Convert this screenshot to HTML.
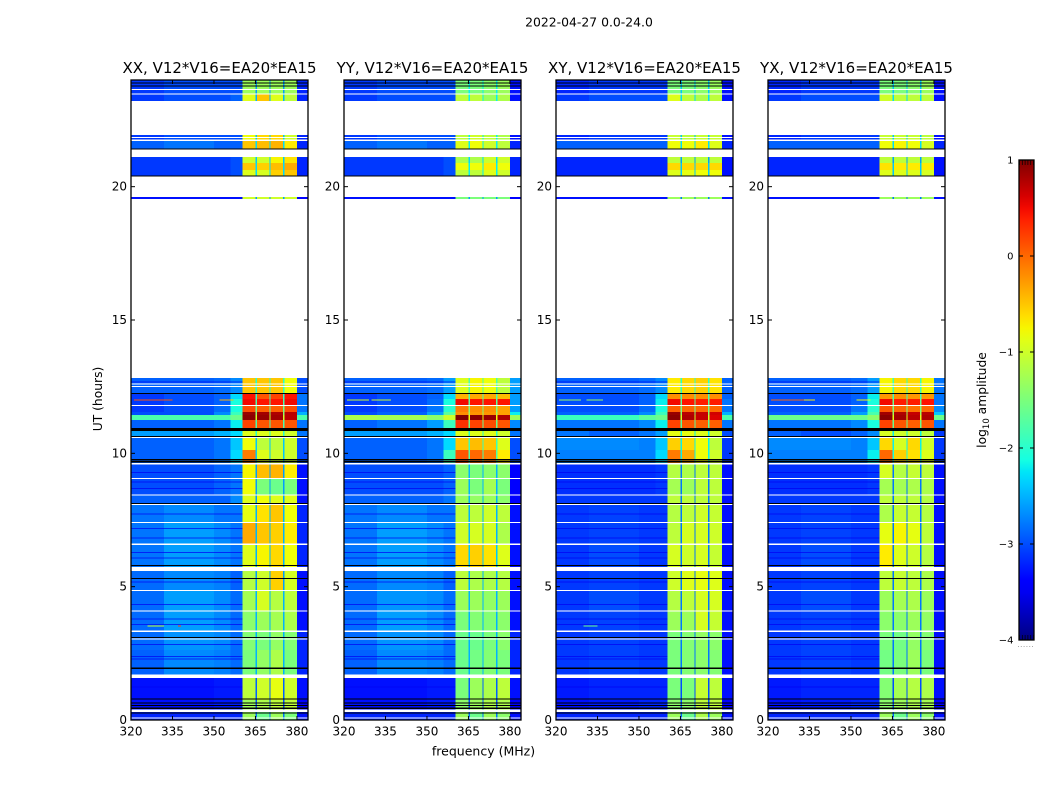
<!DOCTYPE html>
<html lang="en">
<head>
<meta charset="utf-8">
<title>2022-04-27 spectrograms</title>
<style>
html,body{margin:0;padding:0;background:#fff;}
svg{display:block;font-family:"DejaVu Sans","Liberation Sans",sans-serif;fill:#000;}
</style>
</head>
<body>
<svg id="fig" xmlns="http://www.w3.org/2000/svg" width="1050" height="800" viewBox="0 0 1050 800">
  <defs>
    <linearGradient id="jet-gradient" x1="0" y1="1" x2="0" y2="0"></linearGradient>
  </defs>
  <rect x="0" y="0" width="1050" height="800" fill="#fff"/>
  <text x="589" y="26.5" font-size="12.4" text-anchor="middle">2022-04-27 0.0-24.0</text>
  <text x="483.5" y="755.5" font-size="12.5" text-anchor="middle">frequency (MHz)</text>
  <text x="0" y="0" font-size="12.3" text-anchor="middle" transform="translate(102,399) rotate(-90)">UT (hours)</text>
  <text x="0" y="0" font-size="12.3" text-anchor="middle" transform="translate(986,400) rotate(-90)">log<tspan font-size="8.5" dy="3">10</tspan><tspan dy="-3"> amplitude</tspan></text>
  <g id="panels"></g>
  <g id="colorbar"></g>
</svg>
<script>
// ---------- Chart data ----------
const panelTitles = ["XX, V12*V16=EA20*EA15", "YY, V12*V16=EA20*EA15", "XY, V12*V16=EA20*EA15", "YX, V12*V16=EA20*EA15"];
const xTicks = [320, 335, 350, 365, 380];
const yTicks = [0, 5, 10, 15, 20];
const colorTicks = [1, 0, -1, -2, -3, -4];
const freqRange = [320, 384];
const hourRange = [0, 24];
const colorRange = [-4, 1];

// Frequency channel edges (MHz): four background bins, then sub-bands with narrow gaps, then the high end.
const freqEdges = [320, 332, 350, 356, 360.4, 365, 365.5, 370, 370.5, 375, 375.5, 380, 384];
// For each channel above, which column of a row holds its value.
const channelColumn = [0, 1, 2, 3, 4, 8, 5, 8, 6, 8, 7, 9];

// UT spans (hours) of the observed rows.
const rowSpans = [
  [24.00,23.47],[23.47,23.21],[21.94,21.71],[21.71,21.41],[21.11,20.89],[20.89,20.63],[20.63,20.40],[19.61,19.54],
  [12.83,12.26],[12.26,12.04],[12.04,11.81],[11.81,11.55],[11.55,11.44],[11.44,11.25],[11.25,10.95],[10.95,10.65],
  [10.65,10.13],[10.13,9.64],[9.64,9.08],[9.08,8.44],[8.44,8.10],[8.10,7.43],[7.43,6.60],[6.60,5.74],
  [5.59,4.88],[4.88,4.09],[4.09,3.34],[3.34,2.63],[2.63,1.58],[1.58,0.75],[0.75,0.30],[0.30,0.00]
];

// log10 amplitude per row: L1 L2 L3 L4 S1 S2 S3 S4 gap high
const xxValues = [
  [-3.1,-3.0,-3.0,-3.0,-1.3,-1.3,-1.3,-1.3,-2.6,-3.2],
  [-3.1,-3.0,-3.0,-2.9,-0.9,-0.5,-0.9,-1.1,-2.5,-3.2],
  [-3.1,-3.0,-3.0,-3.0,-0.8,-0.6,-0.6,-1.0,-2.4,-3.2],
  [-2.9,-2.8,-2.9,-2.9,-0.5,-0.45,-0.4,-0.7,-2.3,-3.2],
  [-3.1,-3.1,-3.1,-3.0,-1.0,-1.0,-0.75,-0.65,-2.4,-3.2],
  [-3.1,-3.1,-3.1,-3.0,-0.5,-0.55,-0.45,-0.35,-2.3,-3.2],
  [-3.1,-3.1,-3.1,-3.0,-0.9,-0.95,-0.55,-0.5,-2.3,-3.2],
  [-3.3,-3.3,-3.3,-3.3,-1.0,-1.0,-1.0,-1.0,-2.6,-3.4],
  [-2.9,-2.9,-2.85,-2.7,-0.5,-0.5,-0.5,-0.8,-2.0,-3.0],
  [-3.1,-3.0,-2.9,-2.3,0.45,0.1,0.2,0.45,-2.0,-2.8],
  [-3.1,-3.0,-2.9,-2.1,0.5,0.45,0.45,0.5,-1.8,-2.8],
  [-3.1,-3.0,-2.85,-2.1,0.15,0.05,0.05,0.15,-1.6,-2.8],
  [-3.0,-3.0,-2.7,-1.9,0.9,0.85,0.8,0.75,-1.4,-2.5],
  [-1.8,-1.8,-1.8,-1.6,0.95,0.9,0.85,0.75,-1.0,-1.8],
  [-2.9,-2.9,-2.8,-2.2,0.2,0.1,0.1,0.1,-1.8,-2.8],
  [-2.6,-2.6,-2.5,-2.3,-0.9,-0.9,-0.9,-1.0,-2.0,-2.8],
  [-2.9,-2.9,-2.8,-2.4,-0.8,-1.1,-1.1,-1.0,-2.4,-3.0],
  [-2.9,-2.9,-2.8,-2.3,-0.1,-0.9,-1.0,-1.0,-2.4,-3.0],
  [-3.0,-3.0,-2.9,-2.8,-0.75,-0.45,-0.4,-0.7,-2.6,-3.3],
  [-3.0,-3.0,-2.9,-2.8,-0.8,-1.5,-1.6,-1.5,-2.6,-3.3],
  [-2.9,-2.9,-2.9,-2.7,-0.9,-0.8,-0.9,-0.9,-2.6,-3.3],
  [-2.8,-2.7,-2.8,-2.8,-0.85,-0.65,-0.5,-0.8,-2.5,-3.2],
  [-2.8,-2.6,-2.7,-2.8,-0.35,-0.5,-0.55,-0.7,-2.5,-3.2],
  [-2.8,-2.6,-2.7,-2.8,-0.9,-0.75,-0.6,-0.8,-2.5,-3.2],
  [-2.85,-2.7,-2.75,-2.9,-1.15,-1.0,-0.55,-0.95,-2.6,-3.3],
  [-2.85,-2.6,-2.7,-2.85,-1.25,-0.95,-1.15,-1.1,-2.5,-3.3],
  [-2.85,-2.6,-2.7,-2.85,-1.4,-1.3,-1.25,-1.2,-2.5,-3.3],
  [-2.85,-2.65,-2.7,-2.85,-1.45,-1.5,-1.35,-1.45,-2.5,-3.2],
  [-2.9,-2.7,-2.75,-2.85,-1.5,-1.35,-1.2,-1.5,-2.5,-3.2],
  [-3.3,-3.3,-3.25,-3.25,-1.1,-1.0,-0.85,-1.0,-2.9,-3.3],
  [-3.3,-3.3,-3.25,-3.25,-1.3,-1.2,-1.1,-1.1,-3.0,-3.4],
  [-3.2,-3.2,-3.2,-3.2,-1.3,-1.6,-1.3,-1.5,-2.8,-3.3]
];
const yyValues = [
  [-3.1,-3.0,-3.0,-3.0,-1.5,-1.5,-1.4,-1.3,-2.2,-3.3],
  [-3.1,-3.0,-3.0,-3.0,-1.1,-1.1,-1.3,-1.2,-2.2,-3.3],
  [-3.1,-3.0,-3.0,-3.0,-1.1,-1.0,-1.1,-1.2,-2.2,-3.3],
  [-2.9,-2.8,-2.9,-2.9,-0.9,-0.8,-1.0,-1.1,-2.2,-3.2],
  [-3.1,-3.1,-3.1,-3.0,-1.2,-1.2,-1.0,-1.0,-2.3,-3.2],
  [-3.1,-3.1,-3.1,-3.0,-0.8,-0.8,-0.7,-0.8,-2.2,-3.2],
  [-3.1,-3.1,-3.1,-3.0,-1.1,-1.1,-0.9,-1.0,-2.2,-3.2],
  [-3.3,-3.3,-3.3,-3.3,-1.5,-1.5,-1.5,-1.5,-2.6,-3.4],
  [-2.9,-2.9,-2.85,-2.6,-0.9,-0.75,-0.8,-1.1,-1.8,-2.6],
  [-3.1,-3.0,-2.9,-2.3,-0.4,-0.35,-0.35,-0.45,-1.8,-2.6],
  [-3.1,-3.0,-2.85,-2.1,0.5,0.45,0.45,0.45,-1.7,-2.6],
  [-3.1,-3.0,-2.8,-2.0,-0.1,-0.2,-0.2,-0.3,-1.5,-2.6],
  [-3.0,-2.9,-2.6,-1.7,-0.2,-0.25,-0.25,-0.3,-1.3,-2.2],
  [-1.2,-1.25,-1.4,-1.0,1.0,0.95,0.9,0.8,-0.8,-1.3],
  [-2.9,-2.8,-2.6,-1.9,0.3,0.2,0.15,0.1,-1.6,-2.7],
  [-2.6,-2.6,-2.5,-2.3,-0.9,-0.9,-0.9,-1.0,-2.0,-2.8],
  [-2.9,-2.9,-2.8,-2.3,-0.5,-0.45,-0.5,-0.9,-1.9,-3.0],
  [-2.9,-2.9,-2.8,-1.9,0.1,0.0,-0.1,-0.7,-1.8,-3.0],
  [-3.0,-3.0,-3.0,-2.9,-1.4,-1.5,-1.4,-1.4,-2.5,-3.4],
  [-3.0,-3.0,-3.0,-2.9,-1.3,-1.5,-1.25,-1.5,-2.5,-3.4],
  [-2.9,-2.9,-2.9,-2.8,-1.3,-1.35,-1.3,-1.4,-2.5,-3.4],
  [-2.8,-2.7,-2.8,-2.8,-1.1,-1.1,-1.0,-1.1,-2.5,-3.3],
  [-2.8,-2.6,-2.7,-2.8,-1.0,-0.95,-0.95,-1.2,-2.5,-3.3],
  [-2.8,-2.6,-2.7,-2.8,-0.6,-0.55,-0.65,-0.9,-2.4,-3.3],
  [-2.85,-2.7,-2.75,-2.9,-1.1,-1.2,-1.2,-1.15,-2.5,-3.3],
  [-2.85,-2.65,-2.7,-2.85,-1.3,-1.3,-1.35,-1.3,-2.5,-3.3],
  [-2.85,-2.6,-2.7,-2.85,-1.5,-1.45,-1.45,-1.4,-2.5,-3.3],
  [-2.85,-2.65,-2.7,-2.85,-1.6,-1.6,-1.5,-1.4,-2.5,-3.2],
  [-2.9,-2.7,-2.75,-2.85,-1.6,-1.55,-1.45,-1.5,-2.5,-3.2],
  [-3.3,-3.3,-3.25,-3.25,-1.5,-1.3,-1.2,-1.1,-2.9,-3.3],
  [-3.3,-3.3,-3.25,-3.25,-1.4,-1.3,-1.2,-1.2,-3.0,-3.4],
  [-3.2,-3.2,-3.2,-3.2,-1.3,-1.6,-1.3,-1.4,-2.8,-3.3]
];
const xyValues = [
  [-3.2,-3.1,-3.1,-3.1,-1.5,-1.5,-1.4,-1.3,-2.4,-3.3],
  [-3.1,-3.0,-3.0,-3.0,-0.9,-1.1,-1.2,-1.1,-2.3,-3.3],
  [-3.2,-3.1,-3.1,-3.1,-1.05,-1.1,-1.05,-1.05,-2.4,-3.3],
  [-2.9,-2.9,-2.9,-2.9,-0.8,-0.8,-0.7,-0.9,-2.3,-3.2],
  [-3.2,-3.2,-3.2,-3.2,-1.1,-1.1,-1.1,-1.1,-2.6,-3.3],
  [-3.2,-3.2,-3.2,-3.2,-0.6,-0.6,-0.6,-0.6,-2.4,-3.3],
  [-3.2,-3.2,-3.2,-3.2,-0.9,-0.85,-0.8,-0.8,-2.4,-3.3],
  [-3.3,-3.3,-3.3,-3.3,-1.3,-1.3,-1.3,-1.3,-2.8,-3.3],
  [-2.9,-2.9,-2.85,-2.7,-0.7,-0.6,-0.55,-0.65,-2.0,-2.9],
  [-3.0,-3.0,-2.9,-2.3,-0.2,-0.2,-0.2,-0.2,-1.9,-2.9],
  [-3.0,-3.0,-2.9,-2.2,0.5,0.45,0.4,0.4,-1.7,-2.8],
  [-3.0,-3.0,-2.85,-2.1,0.05,0.0,0.0,0.0,-1.6,-2.8],
  [-2.9,-2.9,-2.7,-1.9,0.9,0.75,0.7,0.65,-1.4,-2.5],
  [-1.9,-1.9,-1.7,-1.6,0.95,0.8,0.7,0.6,-1.0,-1.8],
  [-2.8,-2.8,-2.7,-2.2,0.2,0.1,0.05,0.05,-1.7,-2.8],
  [-2.8,-2.9,-2.8,-2.6,-0.85,-0.85,-0.9,-1.0,-2.2,-3.0],
  [-2.7,-2.7,-2.75,-2.4,-0.55,-0.6,-0.8,-1.1,-2.2,-3.1],
  [-2.75,-2.75,-2.75,-2.3,-0.1,-0.35,-0.8,-1.0,-2.2,-3.1],
  [-3.15,-3.15,-3.15,-3.1,-1.15,-1.2,-1.1,-1.1,-2.8,-3.3],
  [-3.15,-3.15,-3.15,-3.1,-1.25,-1.3,-1.1,-1.1,-2.8,-3.3],
  [-3.1,-3.1,-3.1,-3.1,-1.1,-1.1,-1.1,-1.1,-2.8,-3.3],
  [-3.1,-3.05,-3.1,-3.1,-1.15,-1.1,-1.0,-1.05,-2.8,-3.3],
  [-3.1,-3.05,-3.1,-3.1,-1.1,-0.95,-0.95,-1.0,-2.8,-3.3],
  [-3.1,-3.0,-3.1,-3.1,-0.95,-1.0,-0.95,-1.05,-2.8,-3.3],
  [-3.1,-3.05,-3.1,-3.1,-1.0,-0.9,-0.85,-0.9,-2.8,-3.3],
  [-3.1,-3.0,-3.1,-3.1,-1.15,-1.1,-0.95,-0.95,-2.8,-3.3],
  [-3.1,-3.05,-3.1,-3.1,-1.3,-1.3,-0.95,-1.05,-2.8,-3.3],
  [-3.1,-3.05,-3.1,-3.1,-1.5,-1.45,-1.35,-1.4,-2.8,-3.3],
  [-3.1,-3.05,-3.1,-3.1,-1.5,-1.45,-1.4,-1.45,-2.8,-3.3],
  [-3.25,-3.2,-3.2,-3.2,-1.5,-1.5,-1.05,-1.1,-3.0,-3.3],
  [-3.3,-3.25,-3.2,-3.2,-1.4,-1.4,-1.1,-1.1,-3.0,-3.4],
  [-3.2,-3.2,-3.2,-3.2,-1.3,-1.6,-1.2,-1.3,-2.9,-3.3]
];
const yxValues = [
  [-3.2,-3.1,-3.1,-3.1,-1.5,-1.5,-1.4,-1.3,-2.4,-3.3],
  [-3.1,-3.0,-3.0,-3.0,-1.0,-1.1,-1.1,-1.1,-2.3,-3.3],
  [-3.2,-3.1,-3.1,-3.1,-1.05,-1.05,-1.05,-1.1,-2.4,-3.3],
  [-2.9,-2.9,-2.9,-2.9,-0.8,-0.75,-0.8,-0.95,-2.3,-3.2],
  [-3.2,-3.2,-3.2,-3.2,-1.1,-1.1,-1.1,-1.1,-2.6,-3.3],
  [-3.2,-3.2,-3.2,-3.2,-0.65,-0.7,-0.7,-0.7,-2.4,-3.3],
  [-3.2,-3.2,-3.2,-3.2,-0.9,-0.9,-0.9,-0.95,-2.4,-3.3],
  [-3.3,-3.3,-3.3,-3.3,-1.3,-1.3,-1.3,-1.3,-2.8,-3.3],
  [-2.9,-2.9,-2.85,-2.6,-0.75,-0.6,-0.6,-0.75,-1.9,-2.8],
  [-3.0,-3.0,-2.9,-2.2,-0.25,-0.2,-0.25,-0.25,-1.9,-2.8],
  [-3.0,-3.0,-2.9,-2.1,0.5,0.4,0.4,0.45,-1.6,-2.8],
  [-3.0,-3.0,-2.8,-2.0,0.1,0.0,-0.05,0.0,-1.5,-2.7],
  [-2.9,-2.9,-2.6,-1.8,0.85,0.8,0.7,0.75,-1.3,-2.4],
  [-1.6,-1.6,-1.6,-1.4,0.95,0.85,0.75,0.8,-0.9,-1.6],
  [-2.8,-2.8,-2.7,-2.1,0.2,0.1,0.05,0.1,-1.6,-2.8],
  [-2.9,-3.0,-2.9,-2.7,-0.95,-1.0,-1.0,-1.1,-2.2,-3.1],
  [-2.7,-2.7,-2.75,-2.4,-0.6,-0.95,-0.6,-1.0,-2.2,-3.1],
  [-2.75,-2.75,-2.75,-2.2,0.0,-0.55,-0.65,-0.9,-2.1,-3.1],
  [-3.15,-3.15,-3.15,-3.1,-0.95,-1.15,-1.05,-1.1,-2.8,-3.3],
  [-3.15,-3.15,-3.15,-3.1,-1.25,-1.25,-1.2,-1.2,-2.8,-3.3],
  [-3.1,-3.1,-3.1,-3.1,-1.1,-1.1,-1.1,-1.15,-2.8,-3.3],
  [-3.1,-3.05,-3.1,-3.1,-1.2,-1.05,-1.05,-1.15,-2.8,-3.3],
  [-3.1,-3.05,-3.1,-3.1,-0.85,-0.75,-0.85,-1.1,-2.8,-3.3],
  [-3.1,-3.0,-3.1,-3.1,-0.7,-0.9,-1.0,-1.15,-2.8,-3.3],
  [-3.1,-3.05,-3.1,-3.1,-1.1,-1.05,-1.1,-1.2,-2.8,-3.3],
  [-3.1,-3.0,-3.1,-3.1,-1.3,-1.25,-1.2,-1.3,-2.8,-3.3],
  [-3.1,-3.05,-3.1,-3.1,-1.4,-1.4,-1.3,-1.35,-2.8,-3.3],
  [-3.1,-3.05,-3.1,-3.1,-1.5,-1.55,-1.35,-1.45,-2.8,-3.3],
  [-3.1,-3.05,-3.1,-3.1,-1.55,-1.5,-1.3,-1.5,-2.8,-3.3],
  [-3.25,-3.2,-3.2,-3.2,-1.45,-1.25,-1.15,-1.2,-3.0,-3.3],
  [-3.3,-3.25,-3.2,-3.2,-1.4,-1.3,-1.2,-1.25,-3.0,-3.4],
  [-3.2,-3.2,-3.2,-3.2,-1.3,-1.6,-1.3,-1.4,-2.9,-3.3]
];
const panelValues = [xxValues, yyValues, xyValues, yxValues];

// Flagged integrations: blank rows (white) and zero rows (black), as UT spans.
const blankSpans = [
  [23.66,23.62],[23.49,23.45],[21.87,21.83],[21.76,21.72],[12.62,12.58],[12.53,12.49],[11.81,11.77],
  [10.61,10.57],[9.63,9.58],[9.08,9.04],[8.45,8.41],[8.11,8.07],[7.43,7.39],[6.61,6.57],[5.74,5.59],
  [4.87,4.83],[4.10,4.06],[3.36,3.30],[3.05,3.01],[1.71,1.58],[0.39,0.30],[0.09,0.05]
];
const zeroSpans = [
  [23.90,23.86],[23.80,23.76],[21.43,21.39],[20.42,20.38],[12.27,12.23],[10.95,10.84],[10.65,10.61],
  [9.78,9.74],[9.72,9.66],[8.14,8.10],[5.82,5.78],[5.33,5.29],[3.11,3.07],[1.96,1.92],[0.80,0.76],
  [0.65,0.61],[0.56,0.52],[0.47,0.41],[0.29,0.25]
];

// Faint low-amplitude integrations across the background band (UT hours).
const dipHours = [12.7, 9.3, 8.95, 8.7, 7.75, 7.2, 6.85, 6.3, 6.1, 5.2, 4.35, 3.8, 3.6, 2.85, 2.4, 2.3, 1.25];
const dipValue = -3.5;

// Narrow-band interference: panel index, start MHz, end MHz, UT hour, log10 amplitude.
const interference = [
  [0,321,335,12.02,0.1],[0,352,357,12.02,-0.4],[0,326,332,3.55,-1.1],[0,337,338,3.55,0.2],
  [1,321,329,12.02,-1.0],[1,330,337,12.02,-1.0],
  [2,321,329,12.02,-1.3],[2,331,337,12.02,-1.3],[2,330,335,3.55,-1.6],
  [3,321,333,12.02,0.0],[3,333,337,12.02,-0.7],[3,352,357,12.02,-0.8]
];

// ---------- Layout ----------
const SVG_NS = "http://www.w3.org/2000/svg";
const panelLefts = [131, 344, 556, 768];
const panelWidth = 177;
const plotTop = 80;
const plotBottom = 720;
const barLeft = 1019;
const barRight = 1034;
const barTop = 160;
const barBottom = 640;

function xScale(left, freq) {
  return left + (freq - freqRange[0]) / (freqRange[1] - freqRange[0]) * panelWidth;
}
function yScale(hour) {
  return plotBottom - (hour - hourRange[0]) / (hourRange[1] - hourRange[0]) * (plotBottom - plotTop);
}
function lerpStops(stops, t) {
  for (let i = 1; i < stops.length; i++) {
    if (t <= stops[i][0]) {
      const f = (t - stops[i - 1][0]) / (stops[i][0] - stops[i - 1][0]);
      return stops[i - 1][1] + f * (stops[i][1] - stops[i - 1][1]);
    }
  }
  return stops[stops.length - 1][1];
}
const jetR = [[0,0],[0.35,0],[0.66,1],[0.89,1],[1,0.5]];
const jetG = [[0,0],[0.125,0],[0.375,1],[0.64,1],[0.91,0],[1,0]];
const jetB = [[0,0.5],[0.11,1],[0.34,1],[0.65,0],[1,0]];
function jet(t) {
  const c = Math.max(0, Math.min(1, t));
  const to255 = function (v) { return Math.round(v * 255); };
  return "rgb(" + to255(lerpStops(jetR, c)) + "," + to255(lerpStops(jetG, c)) + "," + to255(lerpStops(jetB, c)) + ")";
}
function colorOf(value) {
  return jet((value - colorRange[0]) / (colorRange[1] - colorRange[0]));
}
function shape(tag, parent, attrs) {
  const el = document.createElementNS(SVG_NS, tag);
  for (const k in attrs) { el.setAttribute(k, attrs[k]); }
  parent.appendChild(el);
  return el;
}
function label(parent, x, y, size, anchor, str) {
  const el = shape("text", parent, { x: x, y: y, "font-size": size, "text-anchor": anchor });
  el.textContent = str;
  return el;
}
function fmtTick(v) {
  return v < 0 ? "\u2212" + Math.abs(v) : String(v);
}

// ---------- Panels ----------
const panelsGroup = document.getElementById("panels");
panelTitles.forEach(function (title, p) {
  const left = panelLefts[p];
  const right = left + panelWidth;
  const group = shape("g", panelsGroup, {});
  
  

  const cells = shape("g", group, { "shape-rendering": "crispEdges" });
  
  

  rowSpans.forEach(function (span, r) {
    const row = panelValues[p][r];
    const y0 = yScale(span[0]);
    const y1 = yScale(span[1]);
    channelColumn.forEach(function (col, c) {
      const x0 = xScale(left, freqEdges[c]);
      const x1 = xScale(left, freqEdges[c + 1]);
      const cell = shape("rect", cells, { x: x0, y: y0, width: x1 - x0, height: y1 - y0, fill: colorOf(row[col]) });
      
      
    });
  });

  dipHours.forEach(function (hour) {
    const x0 = xScale(left, freqEdges[0]);
    const x1 = xScale(left, freqEdges[4]);
    const dip = shape("rect", cells, { x: x0, y: yScale(hour), width: x1 - x0, height: 1, fill: colorOf(dipValue), opacity: 0.7 });
    
    
  });

  interference.forEach(function (item) {
    if (item[0] !== p) { return; }
    const x0 = xScale(left, item[1]);
    const x1 = xScale(left, item[2]);
    const rfi = shape("rect", cells, { x: x0, y: yScale(item[3]), width: x1 - x0, height: 1, fill: colorOf(item[4]) });
    
    
  });

  blankSpans.forEach(function (span) {
    const gap = shape("rect", cells, { x: left, y: yScale(span[0]), width: panelWidth, height: Math.max(1, yScale(span[1]) - yScale(span[0])), fill: "#fff" });
    
    
  });
  zeroSpans.forEach(function (span) {
    const zero = shape("rect", cells, { x: left, y: yScale(span[0]), width: panelWidth, height: Math.max(1, yScale(span[1]) - yScale(span[0])), fill: "#000" });
    
    
  });

  const frame = shape("rect", group, { x: left, y: plotTop, width: panelWidth, height: plotBottom - plotTop, fill: "none", stroke: "#000", "stroke-width": 1.3 });
  
  

  const titleEl = label(group, (left + right) / 2, 73, 15, "middle", title);
  
  

  xTicks.forEach(function (tick) {
    const x = xScale(left, tick);
    const bottomTick = shape("line", group, { x1: x, x2: x, y1: plotBottom, y2: plotBottom - 4, stroke: "#000", "stroke-width": 1 });
    
    
    const topTick = shape("line", group, { x1: x, x2: x, y1: plotTop, y2: plotTop + 4, stroke: "#000", "stroke-width": 1 });
    
    
    const tickText = label(group, x, 735.5, 12, "middle", String(tick));
    
    
  });
  yTicks.forEach(function (tick) {
    const y = yScale(tick);
    const leftTick = shape("line", group, { x1: left, x2: left + 4, y1: y, y2: y, stroke: "#000", "stroke-width": 1 });
    
    
    const rightTick = shape("line", group, { x1: right, x2: right - 4, y1: y, y2: y, stroke: "#000", "stroke-width": 1 });
    
    
    const tickText = label(group, left - 4, y + 4, 12, "end", String(tick));
    
    
  });
});

// ---------- Colorbar ----------
const gradient = document.getElementById("jet-gradient");
for (let i = 0; i <= 40; i++) {
  shape("stop", gradient, { offset: (i / 40 * 100) + "%", "stop-color": jet(i / 40) });
}
const barGroup = document.getElementById("colorbar");
function barY(value) {
  return barBottom - (value - colorRange[0]) / (colorRange[1] - colorRange[0]) * (barBottom - barTop);
}
const barRect = shape("rect", barGroup, { x: barLeft, y: barTop, width: barRight - barLeft, height: barBottom - barTop, fill: "url(#jet-gradient)", stroke: "#000", "stroke-width": 1.3 });


colorTicks.forEach(function (tick) {
  const y = barY(tick);
  const leftTick = shape("line", barGroup, { x1: barLeft, x2: barLeft + 4, y1: y, y2: y, stroke: "#000", "stroke-width": 1 });
  
  
  const rightTick = shape("line", barGroup, { x1: barRight, x2: barRight - 4, y1: y, y2: y, stroke: "#000", "stroke-width": 1 });
  
  
  const tickText = label(barGroup, barLeft - 5.5, y + 3.5, 10, "end", fmtTick(tick));
  
  
});
[0, 1, 2, 3, 4, 5].forEach(function (n) {
  const x = barLeft + 0.5 + n * 2.8;
  const topMinor = shape("line", barGroup, { x1: x, x2: x, y1: barTop, y2: barTop + 5, stroke: "#000", "stroke-width": 0.7 });
  
  
  const bottomMinor = shape("line", barGroup, { x1: x, x2: x, y1: barBottom, y2: barBottom - 5, stroke: "#000", "stroke-width": 0.7 });
  
  
  const dot = shape("rect", barGroup, { x: x - 1.5, y: 646, width: 1, height: 1, fill: "#aaa" });
  
  
});
</script>
</body>
</html>
